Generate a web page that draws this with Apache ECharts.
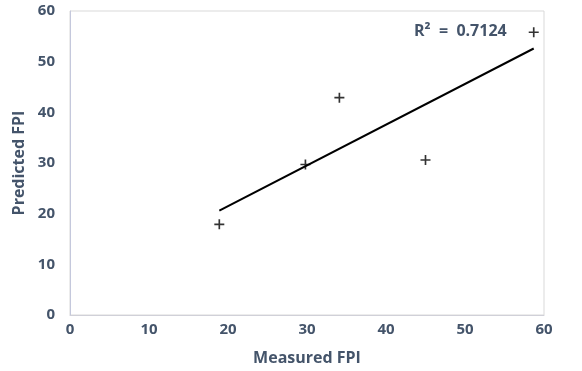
<!DOCTYPE html>
<html>
<head>
<meta charset="utf-8">
<script src="https://cdn.jsdelivr.net/npm/echarts@6/dist/echarts.min.js"></script>
<style>
html,body{margin:0;padding:0;background:#fff;}
#chart{width:582px;height:371px;}
</style>
</head>
<body>
<div id="chart"></div>
<script>
// measured vs predicted
var measured = [18.9, 29.8, 34.1, 45.0, 58.7];
var predicted = [17.9, 29.7, 42.9, 30.6, 55.8];
// linear trend line end points
var trendX = [18.9, 58.7];
var trendY = [20.6, 52.6];
var r2Text = 'R²  =  0.7124';

var points = [];
measured.forEach(function(v, i) {
    points.push([v, predicted[i]]);
});
var trend = [];
trendX.forEach(function(v, i) {
    trend.push([v, trendY[i]]);
});

var textColor = '#44546A';
var plus = 'path://M4,0h1.6v4h4v1.6h-4v4h-1.6v-4h-4v-1.6h4z';

var option = {
    animation: false,
    textStyle: { fontFamily: 'Open Sans' },
    grid: {
        left: 70, right: 38, top: 11, bottom: 55,
        show: true,
        borderColor: '#d9d9d9',
        borderWidth: 1
    },
    xAxis: {
        type: 'value',
        min: 0, max: 60, interval: 10,
        name: 'Measured FPI',
        nameLocation: 'middle',
        nameGap: 35,
        nameTextStyle: { color: textColor, fontSize: 16, fontWeight: 'bold' },
        axisLine: { show: true, lineStyle: { color: '#d0d0d8' } },
        axisTick: { show: false },
        splitLine: { show: false },
        axisLabel: { color: textColor, fontSize: 15, fontWeight: 'bold', margin: 7 }
    },
    yAxis: {
        type: 'value',
        min: 0, max: 60, interval: 10,
        name: 'Predicted FPI',
        nameLocation: 'middle',
        nameGap: 41,
        nameTextStyle: { color: textColor, fontSize: 16, fontWeight: 'bold' },
        axisLine: { show: true, lineStyle: { color: '#c4c8dc' } },
        axisTick: { show: false },
        splitLine: { show: false },
        axisLabel: { color: textColor, fontSize: 15, fontWeight: 'bold', margin: 15 }
    },
    graphic: [{
        type: 'text',
        left: 414, top: 23,
        style: { text: r2Text, fill: textColor, font: 'bold 16px "Open Sans"' }
    }],
    series: [
        {
            type: 'line',
            data: trend,
            symbol: 'none',
            lineStyle: { color: '#000', width: 2 },
            z: 2
        },
        {
            type: 'scatter',
            data: points,
            symbol: plus,
            symbolSize: 10,
            itemStyle: { color: '#000' },
            z: 3
        }
    ]
};

var chart = echarts.init(document.getElementById('chart'));
chart.setOption(option);
</script>
</body>
</html>
